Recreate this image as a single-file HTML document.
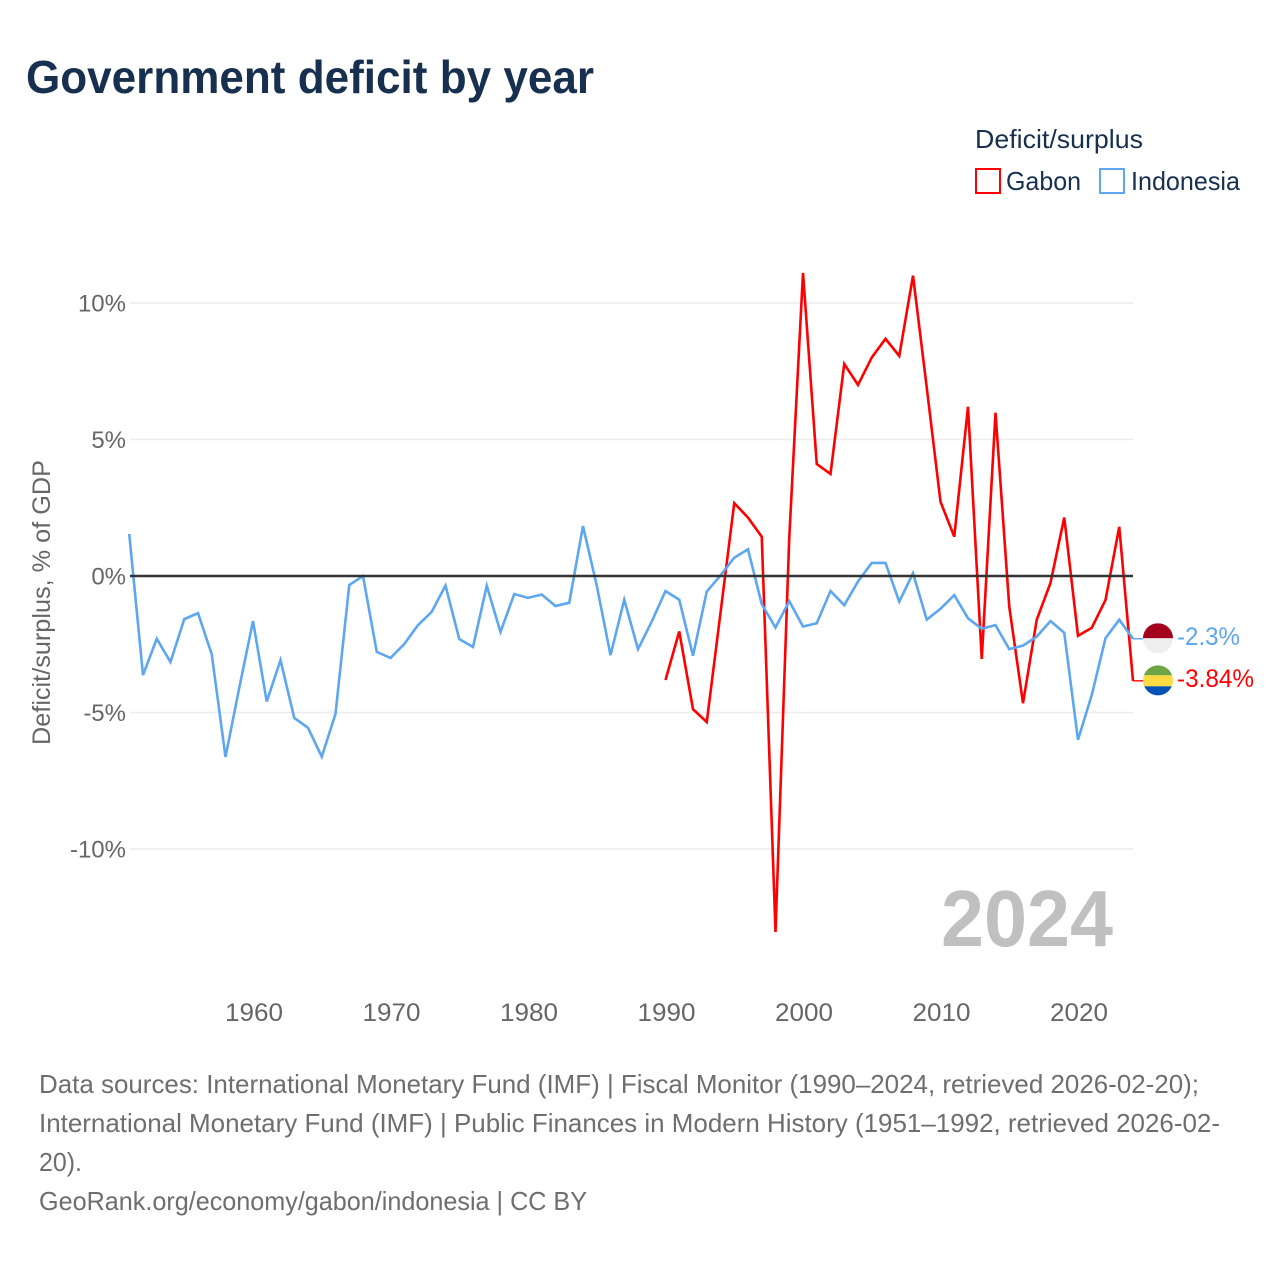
<!DOCTYPE html>
<html lang="en">
<head>
<meta charset="utf-8">
<title>Government deficit by year</title>
<style>
  html, body { margin: 0; padding: 0; background: #fff; }
  svg { display: block; font-family: "Liberation Sans", sans-serif; }
</style>
</head>
<body>
<svg id="chart" width="1280" height="1280" viewBox="0 0 1280 1280" xmlns="http://www.w3.org/2000/svg">
  <rect x="0" y="0" width="1280" height="1280" fill="#ffffff"/>
  <text x="26" y="93" font-size="46" font-weight="700" fill="#18304f" textLength="568" lengthAdjust="spacingAndGlyphs">Government deficit by year</text>

  <g>
    <text x="975" y="148" font-size="26" fill="#18304f" textLength="168" lengthAdjust="spacingAndGlyphs">Deficit/surplus</text>
    <g>
      <rect x="976" y="169" width="24" height="24" fill="#ffffff" stroke="#ff0000" stroke-width="2"/>
      <text x="1006" y="190" font-size="26" fill="#18304f" textLength="75" lengthAdjust="spacingAndGlyphs">Gabon</text>
    </g>
    <g>
      <rect x="1100" y="169" width="24" height="24" fill="#ffffff" stroke="#5ca7f0" stroke-width="2"/>
      <text x="1131" y="190" font-size="26" fill="#18304f" textLength="109" lengthAdjust="spacingAndGlyphs">Indonesia</text>
    </g>
  </g>

  <text transform="translate(50 745) rotate(-90)" x="0" y="0" font-size="25" fill="#666666" textLength="285" lengthAdjust="spacingAndGlyphs">Deficit/surplus, % of GDP</text>

  <g id="grid"></g>
  <g id="y-ticks"></g>
  <g id="x-ticks"></g>

  <text x="941" y="946" font-size="80" font-weight="700" fill="#c0c0c0" textLength="172" lengthAdjust="spacingAndGlyphs">2024</text>

  <g id="series"></g>
  <g id="zero"></g>
  <g id="end-labels"></g>

  <g font-size="26" fill="#6e6e6e">
    <text x="39" y="1093" textLength="1160" lengthAdjust="spacingAndGlyphs">Data sources: International Monetary Fund (IMF) | Fiscal Monitor (1990–2024, retrieved 2026-02-20);</text>
    <text x="39" y="1132" textLength="1181" lengthAdjust="spacingAndGlyphs">International Monetary Fund (IMF) | Public Finances in Modern History (1951–1992, retrieved 2026-02-</text>
    <text x="39" y="1171" textLength="43" lengthAdjust="spacingAndGlyphs">20).</text>
    <text x="39" y="1210" textLength="548" lengthAdjust="spacingAndGlyphs">GeoRank.org/economy/gabon/indonesia | CC BY</text>
  </g>
</svg>

<script>
const indonesiaYears = [1951,1952,1953,1954,1955,1956,1957,1958,1959,1960,1961,1962,1963,1964,1965,1966,1967,1968,1969,1970,1971,1972,1973,1974,1975,1976,1977,1978,1979,1980,1981,1982,1983,1984,1985,1986,1987,1988,1989,1990,1991,1992,1993,1994,1995,1996,1997,1998,1999,2000,2001,2002,2003,2004,2005,2006,2007,2008,2009,2010,2011,2012,2013,2014,2015,2016,2017,2018,2019,2020,2021,2022,2023,2024];
const indonesiaValues = [1.54,-3.63,-2.3,-3.15,-1.58,-1.36,-2.87,-6.63,-4.1,-1.65,-4.6,-3.08,-5.2,-5.56,-6.62,-5.05,-0.33,0,-2.78,-3.0,-2.49,-1.8,-1.31,-0.35,-2.31,-2.6,-0.36,-2.05,-0.66,-0.8,-0.68,-1.1,-0.98,1.83,-0.35,-2.9,-0.87,-2.68,-1.67,-0.55,-0.87,-2.92,-0.57,0.02,0.67,0.98,-1.03,-1.89,-0.92,-1.85,-1.73,-0.55,-1.07,-0.2,0.48,0.48,-0.94,0.1,-1.6,-1.2,-0.7,-1.55,-1.93,-1.8,-2.68,-2.55,-2.22,-1.65,-2.08,-6.0,-4.36,-2.28,-1.6,-2.3];
const gabonYears = [1990,1991,1992,1993,1994,1995,1996,1997,1998,1999,2000,2001,2002,2003,2004,2005,2006,2007,2008,2009,2010,2011,2012,2013,2014,2015,2016,2017,2018,2019,2020,2021,2022,2023,2024];
const gabonValues = [-3.81,-2.03,-4.88,-5.35,-1.35,2.67,2.14,1.44,-13.04,1.4,11.1,4.1,3.74,7.77,7.0,8.0,8.69,8.06,11.0,6.9,2.72,1.44,6.2,-3.04,5.98,-1.12,-4.66,-1.6,-0.25,2.14,-2.19,-1.9,-0.88,1.8,-3.84];
const yTickValues = [10,5,0,-5,-10];
const yTickLabels = ["10%","5%","0%","-5%","-10%"];
const xTickValues = [1960,1970,1980,1990,2000,2010,2020];
const xTickLabels = ["1960","1970","1980","1990","2000","2010","2020"];
const indonesiaEndLabel = "-2.3%";
const gabonEndLabel = "-3.84%";

const SVG_NS = "http://www.w3.org/2000/svg";
function xScale(year) { return 253 + (year - 1960) * 13.75; }
function yScale(value) { return 576 - value * 27.3; }
function make(tag, parent, attrs) {
  const el = document.createElementNS(SVG_NS, tag);
  for (const k in attrs) el.setAttribute(k, attrs[k]);
  parent.appendChild(el);
  return el;
}

const grid = document.getElementById("grid");
const yTicks = document.getElementById("y-ticks");
const xTicks = document.getElementById("x-ticks");
const seriesGroup = document.getElementById("series");
const zeroGroup = document.getElementById("zero");
const endLabels = document.getElementById("end-labels");

yTickValues.forEach(function (v, i) {
  if (v !== 0) {
    const line = make("line", grid, { x1: 130, x2: 1133, y1: yScale(v), y2: yScale(v), stroke: "#ececec", "stroke-width": 1.5 });
    
    
  }
  const label = make("text", yTicks, { x: 126, y: yScale(v) + 8.5, "text-anchor": "end", "font-size": 24, fill: "#666666" });
  label.textContent = yTickLabels[i];
  
  
});

xTickValues.forEach(function (yr, i) {
  const label = make("text", xTicks, { x: xScale(yr) + 1, y: 1021, "text-anchor": "middle", "font-size": 25, fill: "#666666", textLength: 58, lengthAdjust: "spacingAndGlyphs" });
  label.textContent = xTickLabels[i];
  
  
});

function linePoints(years, values) {
  return years.map(function (yr, i) { return xScale(yr).toFixed(2) + "," + yScale(values[i]).toFixed(2); }).join(" ");
}

const gabonLine = make("polyline", seriesGroup, { points: linePoints(gabonYears, gabonValues), fill: "none", stroke: "#ff0000", "stroke-width": 2.6, "stroke-linejoin": "miter" });



const indonesiaLine = make("polyline", seriesGroup, { points: linePoints(indonesiaYears, indonesiaValues), fill: "none", stroke: "#5ca7f0", "stroke-width": 2.6, "stroke-linejoin": "miter" });



const zeroLine = make("line", zeroGroup, { x1: 130, x2: 1133, y1: yScale(0), y2: yScale(0), stroke: "#333333", "stroke-width": 2.5 });



function addEndMarker(lastYear, lastValue, color, text, name, bands) {
  const y = yScale(lastValue);
  const x = xScale(lastYear);
  const conn = make("line", endLabels, { x1: x, x2: 1144, y1: y, y2: y, stroke: color, "stroke-width": 1.4 });
  
  
  const clipId = name + "-clip";
  const clip = make("clipPath", endLabels, { id: clipId });
  make("circle", clip, { cx: 1158, cy: y - 0.5, r: 15 });
  const flag = make("g", endLabels, { "clip-path": "url(#" + clipId + ")" });
  
  
  bands.forEach(function (b) {
    make("rect", flag, { x: 1143, y: y - 0.5 + b[0], width: 30, height: b[1], fill: b[2] });
  });
  const label = make("text", endLabels, { x: 1177, y: y + 6, "font-size": 25, fill: color, textLength: text.length > 5 ? 77 : 63, lengthAdjust: "spacingAndGlyphs" });
  label.textContent = text;
  
  
}

addEndMarker(2024, indonesiaValues[indonesiaValues.length - 1], "#5ca7f0", indonesiaEndLabel, "indonesia", [[-15, 15, "#a2001d"], [0, 15, "#eeeeee"]]);
addEndMarker(2024, gabonValues[gabonValues.length - 1], "#ff0000", gabonEndLabel, "gabon", [[-15, 10, "#6da544"], [-5, 11, "#ffda44"], [6, 10, "#0052b4"]]);
</script>
</body>
</html>
